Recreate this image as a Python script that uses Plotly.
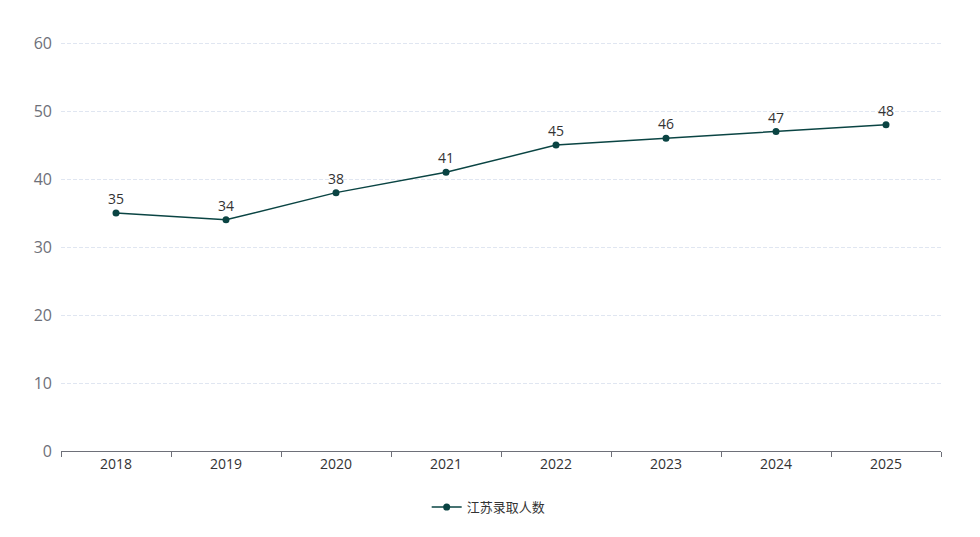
import plotly.graph_objects as go

years = ["2018", "2019", "2020", "2021", "2022", "2023", "2024", "2025"]
admitted = [35, 34, 38, 41, 45, 46, 47, 48]
series_name = "江苏录取人数"
y_ticks = [0, 10, 20, 30, 40, 50, 60]

line_color = "#0a4443"
font_family = "Open Sans, Noto Sans CJK SC, sans-serif"

fig = go.Figure()
fig.add_trace(go.Scatter(
    x=years, y=admitted, name=series_name,
    mode="lines+markers+text",
    line=dict(color=line_color, width=1.5),
    marker=dict(color=line_color, size=7),
    text=[str(v) for v in admitted],
    textposition="top center",
    textfont=dict(color="#333333", size=14, family=font_family),
    cliponaxis=False,
))

fig.update_layout(
    width=972, height=529,
    margin=dict(l=53, r=39, t=33, b=86, autoexpand=False),
    plot_bgcolor="white", paper_bgcolor="white",
    font=dict(family=font_family),
    showlegend=True,
    legend=dict(orientation="h", x=0.486, xanchor="center", y=-0.137, yanchor="middle",
                font=dict(size=13, color="#333333", family=font_family)),
    xaxis=dict(
        type="category", tickson="boundaries", ticks="outside", ticklen=5,
        tickcolor="#6E7079", showline=True, linecolor="#6E7079", linewidth=1,
        showgrid=False, tickfont=dict(size=14, color="#333333"),
        range=[-0.5, 7.5], automargin=False,
    ),
    yaxis=dict(
        range=[0, 60.3], tickvals=y_ticks, showline=False, zeroline=False,
        showgrid=True, gridcolor="#E0E6F1", griddash="4px,2px", gridwidth=1,
        tickfont=dict(size=16, color="#6E7079"), ticks="", ticklabelstandoff=8,
        automargin=False,
    ),
)

fig.write_html("out.html")
